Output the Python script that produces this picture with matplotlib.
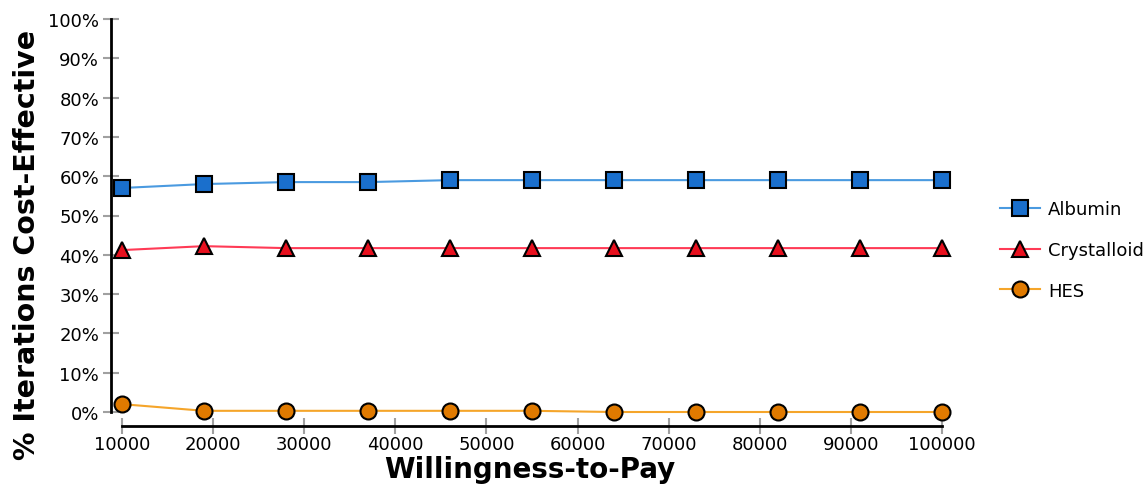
import matplotlib
matplotlib.use("Agg")
import matplotlib.pyplot as plt
from matplotlib.ticker import FuncFormatter

wtp = [10000, 19000, 28000, 37000, 46000, 55000, 64000, 73000, 82000, 91000, 100000]
albumin = [57.0, 58.0, 58.5, 58.5, 59.0, 59.0, 59.0, 59.0, 59.0, 59.0, 59.0]
crystalloid = [41.2, 42.2, 41.7, 41.7, 41.7, 41.7, 41.7, 41.7, 41.7, 41.7, 41.7]
hes = [2.0, 0.3, 0.3, 0.3, 0.3, 0.3, 0.0, 0.0, 0.0, 0.0, 0.0]
x_ticks = [10000, 20000, 30000, 40000, 50000, 60000, 70000, 80000, 90000, 100000]
y_ticks = [0, 10, 20, 30, 40, 50, 60, 70, 80, 90, 100]

fig = plt.figure(figsize=(11.46, 4.89), dpi=100)
W, H = 1146, 489
left_px, right_px, top_px, bot_px = 111, 955, 20, 413
ax = fig.add_axes([left_px / W, 1 - bot_px / H, (right_px - left_px) / W, (bot_px - top_px) / H])

ppx = 90000 / 820.0
ax.set_xlim(10000 - (122 - left_px) * ppx, 100000 + (right_px - 942) * ppx)
ax.set_ylim(0, 100)

series = [
    ("Albumin", albumin, "s", "#1a6fcc", "#4a9ae0", 11.5),
    ("Crystalloid", crystalloid, "^", "#e8101e", "#ff3a55", 12),
    ("HES", hes, "o", "#e07a00", "#f5a52a", 11.5),
]
for name, vals, mk, fc, lc, ms in series:
    ax.plot(wtp, vals, color=lc, lw=1.5, marker=mk, markersize=ms,
            markerfacecolor=fc, markeredgecolor="black", markeredgewidth=1.5,
            label=name, clip_on=False, zorder=3)

for s in ["top", "right"]:
    ax.spines[s].set_visible(False)
ax.spines["left"].set_linewidth(2)
ax.spines["bottom"].set_linewidth(2)
ax.spines["left"].set_bounds(0, 100)
ax.spines["bottom"].set_bounds(10000, 100000)
ax.spines["bottom"].set_position(("outward", 10))

ax.set_xticks(x_ticks)
ax.set_yticks(y_ticks)
ax.yaxis.set_major_formatter(FuncFormatter(lambda v, p: f"{int(v)}%"))
ax.tick_params(axis="both", direction="inout", length=11, width=1.5, color="#a0a0a0",
               labelsize=13, labelcolor="black")
ax.tick_params(axis="y", pad=3)
ax.tick_params(axis="x", pad=1)

ax.set_xlabel("Willingness-to-Pay", fontsize=20, fontweight="bold")
ax.xaxis.set_label_coords((530 - left_px) / (right_px - left_px), -(470 - bot_px) / (bot_px - top_px))
ax.xaxis.label.set_va("center")
ax.set_ylabel("% Iterations Cost-Effective", fontsize=20.5, fontweight="bold")
ax.yaxis.set_label_coords(-(left_px - 27) / (right_px - left_px), -(245 - bot_px) / (bot_px - top_px))
ax.yaxis.label.set_va("center")

leg = fig.legend(*ax.get_legend_handles_labels(), loc="center left",
                 bbox_to_anchor=(1000 / W, 1 - 251 / H), frameon=False,
                 fontsize=13, handlelength=2.2, labelspacing=1.25, handletextpad=0.45,
                 borderaxespad=0, borderpad=0)

fig.savefig("out.png", dpi=100)
